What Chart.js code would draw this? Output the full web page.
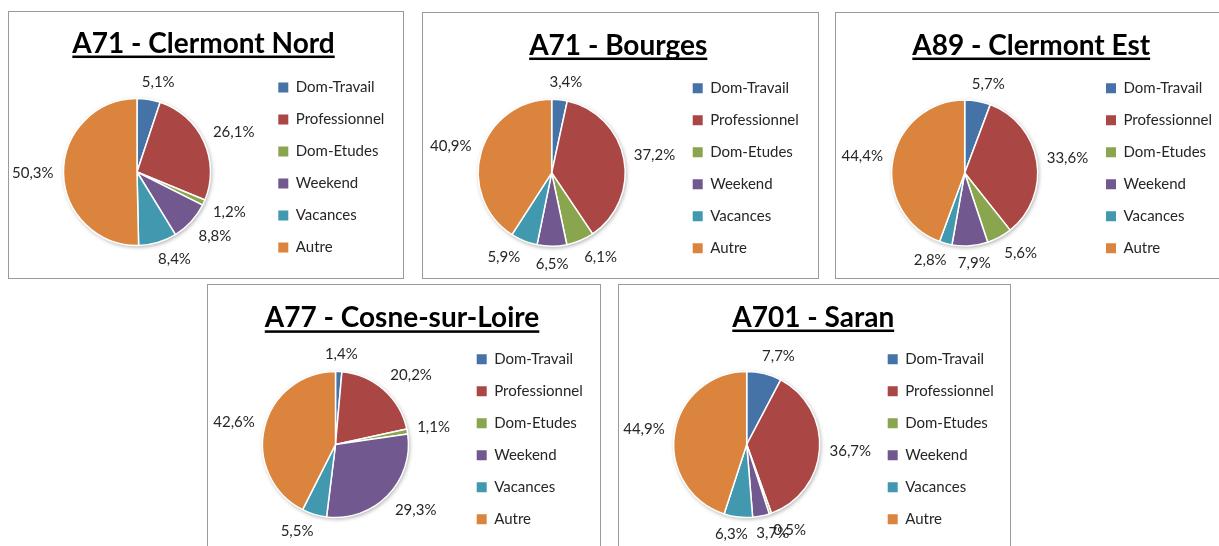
<!DOCTYPE html>
<html><head><meta charset="utf-8">
<script src="https://cdn.jsdelivr.net/npm/chart.js@4.4.1/dist/chart.umd.min.js"></script>
<style>
html,body{margin:0;padding:0;background:#fff;overflow:hidden;width:1219px;height:546px;position:relative;}
.box{position:absolute;border:1px solid #9a9a9a;box-sizing:border-box;}
canvas{position:absolute;}
</style></head><body>
<script>
// ---- data ----
const categories = ['Dom-Travail', 'Professionnel', 'Dom-Etudes', 'Weekend', 'Vacances', 'Autre'];
const titles = ['A71 - Clermont Nord', 'A71 - Bourges', 'A89 - Clermont Est', 'A77 - Cosne-sur-Loire', 'A701 - Saran'];
const clermontNord = [5.1, 26.1, 1.2, 8.8, 8.4, 50.3];
const bourges = [3.4, 37.2, 6.1, 6.5, 5.9, 40.9];
const clermontEst = [5.7, 33.6, 5.6, 7.9, 2.8, 44.4];
const cosne = [1.4, 20.2, 1.1, 29.3, 5.5, 42.6];
const saran = [7.7, 36.7, 0.5, 3.7, 6.3, 44.9];
const seriesList = [clermontNord, bourges, clermontEst, cosne, saran];
const colors = ['#4572A7', '#AA4643', '#89A54E', '#71588F', '#4198AF', '#DB843D'];

// ---- layout (page pixels) ----
const panels = [
  {box:{x:8,  y:11, w:396, h:268}, cw:394, ch:266, pie:{x:137,   y:172,   r:73.5}, sqX:278.3, lastY:247.5, titleY:43.5},
  {box:{x:422,y:12, w:397, h:267}, cw:395, ch:265, pie:{x:551.7, y:172.8, r:73.5}, sqX:692.7, lastY:248.3, titleY:45.5},
  {box:{x:835,y:12, w:420, h:267}, cw:400, ch:265, pie:{x:964.7, y:173,   r:73},   sqX:1106,  lastY:248.3, titleY:45.5},
  {box:{x:207,y:284,w:394, h:300}, cw:392, ch:262, pie:{x:335.5, y:444.5, r:73},   sqX:476.7, lastY:519.3, titleY:318.3},
  {box:{x:618,y:284,w:393, h:300}, cw:391, ch:262, pie:{x:746.7, y:444.5, r:73},   sqX:887.7, lastY:519.3, titleY:317.5}
];

const FAMILY = 'Lato, "Open Sans", sans-serif';
const LFS = 15, LPAD = 17, BOXW = 10, TFS = 28, GAP = 10;

const mctx = document.createElement('canvas').getContext('2d');
mctx.font = LFS + 'px ' + FAMILY;
const maxTextW = Math.max(...categories.map(c => mctx.measureText(c).width));

const fmt = v => v.toFixed(1).replace('.', ',') + '%';
const clamp = v => Math.max(-1, Math.min(1, v));

const shadowPlugin = {
  id: 'pieShadow',
  beforeDatasetsDraw(chart) {
    const arc = chart.getDatasetMeta(0).data[0];
    if (!arc) return;
    const p = arc.getProps(['x', 'y', 'outerRadius'], true);
    const ctx = chart.ctx;
    ctx.save();
    ctx.shadowColor = 'rgba(0,0,0,0.35)';
    ctx.shadowBlur = 4;
    ctx.shadowOffsetX = 1;
    ctx.shadowOffsetY = 1.5;
    ctx.fillStyle = '#ffffff';
    ctx.beginPath();
    ctx.arc(p.x, p.y, p.outerRadius, 0, Math.PI * 2);
    ctx.fill();
    ctx.restore();
  }
};

const labelPlugin = {
  id: 'pctLabels',
  afterDatasetsDraw(chart) {
    const ctx = chart.ctx;
    const data = chart.data.datasets[0].data;
    ctx.save();
    ctx.font = LFS + 'px ' + FAMILY;
    ctx.fillStyle = '#262626';
    ctx.textAlign = 'center';
    ctx.textBaseline = 'middle';
    chart.getDatasetMeta(0).data.forEach((arc, i) => {
      const p = arc.getProps(['x', 'y', 'startAngle', 'endAngle', 'outerRadius'], true);
      const a = (p.startAngle + p.endAngle) / 2;
      const c = Math.cos(a), s = Math.sin(a);
      const txt = fmt(data[i]);
      const w = ctx.measureText(txt).width, h = LFS;
      const ax = p.x + (p.outerRadius + GAP) * c;
      const ay = p.y + (p.outerRadius + GAP) * s;
      ctx.fillText(txt, ax + clamp(3 * c) * w / 2, ay + clamp(1.6 * s) * h / 2);
    });
    ctx.restore();
  }
};

const underlinePlugin = {
  id: 'titleUnderline',
  afterDraw(chart) {
    const tb = chart.titleBlock;
    if (!tb) return;
    const opts = chart.options.plugins.title;
    const ctx = chart.ctx;
    ctx.save();
    ctx.font = 'bold ' + TFS + 'px ' + FAMILY;
    ctx.textBaseline = 'middle';
    const w = ctx.measureText(opts.text).width;
    const base = ctx.measureText('A').actualBoundingBoxDescent;
    const midY = tb.top + opts.padding.top + TFS * 1.2 / 2;
    const cx = (tb.left + tb.right) / 2;
    ctx.fillStyle = '#000';
    ctx.fillRect(cx - w / 2, midY + base + 3, w, 2.5);
    ctx.restore();
  }
};

panels.forEach((pn, k) => {
  const div = document.createElement('div');
  div.className = 'box';
  Object.assign(div.style, {left: pn.box.x + 'px', top: pn.box.y + 'px', width: pn.box.w + 'px', height: pn.box.h + 'px'});
  document.body.appendChild(div);

  const ox = pn.box.x + 1, oy = pn.box.y + 1;
  const cv = document.createElement('canvas');
  cv.width = pn.cw; cv.height = pn.ch;
  Object.assign(cv.style, {left: ox + 'px', top: oy + 'px', width: pn.cw + 'px', height: pn.ch + 'px'});
  document.body.appendChild(cv);

  const W = pn.cw, H = pn.ch;
  const legendLeft = pn.sqX - ox - LPAD;
  const padL = 2 * (pn.pie.x - ox) - legendLeft;
  const legendW = LPAD + BOXW + LFS / 2 + maxTextW + 10;
  const padR = W - legendLeft - legendW;
  const S = LFS + LPAD;
  const legendBottom = pn.lastY - oy + S - LFS / 2;
  const padB = H - legendBottom;
  const areaTop = 2 * (pn.pie.y - oy) - legendBottom;
  const t1 = (pn.titleY - oy) - TFS * 0.6;
  const t2 = areaTop - t1 - TFS * 1.2;

  new Chart(cv, {
    type: 'pie',
    data: {
      labels: categories,
      datasets: [{
        data: seriesList[k],
        backgroundColor: colors,
        borderColor: '#ffffff',
        borderWidth: 1.5,
        radius: pn.pie.r
      }]
    },
    options: {
      responsive: false,
      animation: false,
      devicePixelRatio: 1,
      layout: {padding: {left: padL, right: padR, top: 0, bottom: padB}},
      plugins: {
        tooltip: {enabled: false},
        title: {
          display: true,
          text: titles[k],
          color: '#000',
          font: {family: FAMILY, size: TFS, weight: 'bold', lineHeight: 1.2},
          padding: {top: t1, bottom: t2}
        },
        legend: {
          position: 'right',
          align: 'end',
          labels: {
            boxWidth: BOXW,
            boxHeight: BOXW,
            padding: LPAD,
            color: '#262626',
            font: {family: FAMILY, size: LFS},
            generateLabels: (chart) => Chart.overrides.doughnut.plugins.legend.labels.generateLabels(chart).map(l => Object.assign(l, {lineWidth: 0}))
          }
        }
      }
    },
    plugins: [shadowPlugin, labelPlugin, underlinePlugin]
  });
});
</script>
</body></html>
